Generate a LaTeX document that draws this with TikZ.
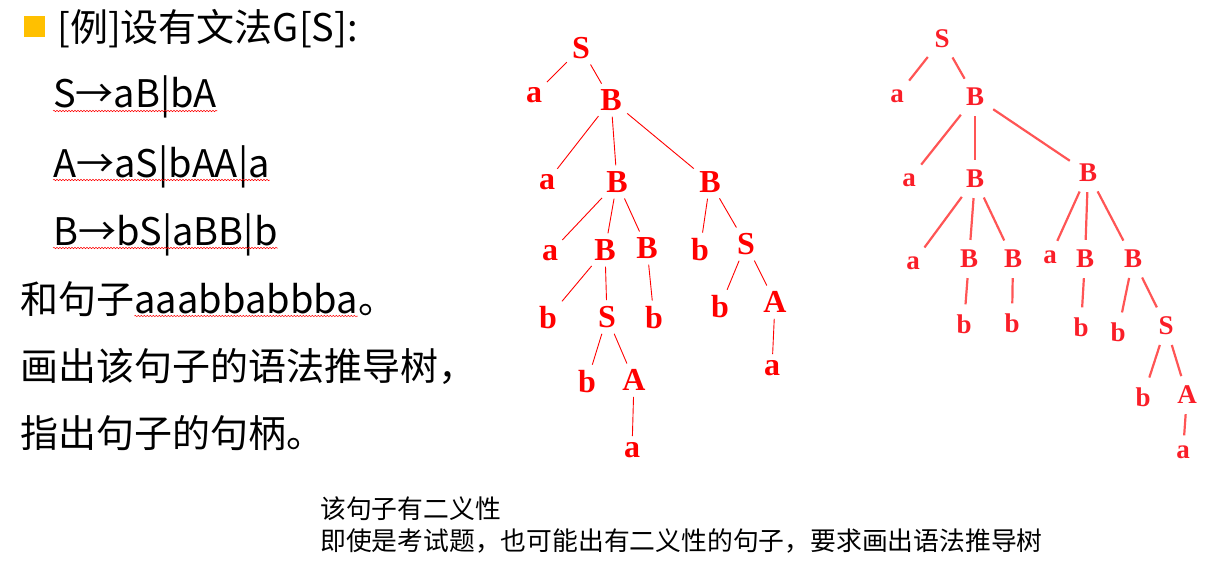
\documentclass[tikz,border=0pt]{standalone}
\usepackage{fontspec}
\newfontfamily\cjk{Noto Sans CJK SC}
\newfontfamily\treefont{Liberation Serif}
\usepackage{tikz}
\usetikzlibrary{positioning,decorations.pathmorphing}
\definecolor{bulletyellow}{RGB}{255,192,0}
\definecolor{softred}{RGB}{250,30,40}
\definecolor{edgered}{RGB}{255,85,85}

\begin{document}
\begin{tikzpicture}[x=1pt,y=-1pt,
  txt/.style={anchor=base west,inner sep=0pt,font=\cjk\fontsize{38}{44}\selectfont},
  note/.style={anchor=base west,inner sep=0pt,font=\cjk\fontsize{25.8}{30}\selectfont},
  sqbullet/.style={fill=bulletyellow,minimum size=21pt,inner sep=0pt},
  squiggle/.style={draw=red,line width=0.5pt,decorate,decoration={snake,amplitude=0.7pt,segment length=3pt}},
  lsym/.style={text=red,inner sep=3pt,font=\treefont\bfseries\fontsize{32}{34}\selectfont},
  rsym/.style={text=softred,inner sep=4pt,font=\treefont\bfseries\fontsize{27}{29}\selectfont},
  ledge/.style={draw=red,line width=0.9pt,shorten >=3pt,shorten <=3pt},
  redge/.style={draw=edgered,line width=2.2pt,shorten >=6pt,shorten <=6pt}]
\useasboundingbox (0,0) rectangle (1226,575);

% question text
\node[sqbullet] (dot) at (34,27) {};
\node[txt] (title) at (57,42) {[例]设有文法G[S]:};
\node[txt] (g1) at (53,108) {S→aB|bA};
\node[txt] (g2) at (53,177) {A→aS|bAA|a};
\node[txt] (g3) at (53,245) {B→bS|aBB|b};
\node[txt] (q1) at (20,313) {和句子};
\node[txt] (q2) at (q1.base east) {aaabbabbba};
\node[txt] (q3) at (q2.base east) {。};
\node[txt] (q4) at (20,380) {画出该句子的语法推导树，};
\node[txt] (q5) at (20,447) {指出句子的句柄。};
\foreach \t in {g1,g2,g3,q2}
  \draw[squiggle] ([yshift=-3pt]\t.base west) -- ([yshift=-3pt]\t.base east);

% first derivation tree
\foreach \n/\s/\x/\y in {1/S/581/48, 2/a/534/95, 3/B/611/100,
    4/a/547/182, 5/B/617/182, 6/B/710/182,
    7/a/550/253, 8/B/605/250, 9/B/647/248, 10/b/700/250, 11/S/746/244,
    12/b/548/318, 13/S/607/317, 14/b/654/318, 15/b/720/307, 16/A/775/302,
    17/b/587/382, 18/A/634/380, 19/a/772/368, 20/a/632/450}
  \node[lsym] (L\n) at (\x,\y) {\s};
\foreach \u/\v in {1/2,1/3,3/4,3/5,3/6,5/7,5/8,5/9,6/10,6/11,
    8/12,8/13,9/14,11/15,11/16,13/17,13/18,16/19,18/20}
  \draw[ledge] (L\u) -- (L\v);

% second derivation tree
\foreach \n/\s/\x/\y in {1/S/942/39, 2/a/897/96, 3/B/975/97,
    4/a/909/180, 5/B/975/179, 6/B/1088/173,
    7/a/913/263, 8/B/969/259, 9/B/1013/259, 10/a/1050/257, 11/B/1085/259, 12/B/1133/259,
    13/b/964/324, 14/b/1012/323, 15/b/1081/327, 16/b/1118/332, 17/S/1166/326,
    18/b/1143/397, 19/A/1187/395, 20/a/1183/452}
  \node[rsym] (R\n) at (\x,\y) {\s};
\foreach \u/\v in {1/2,1/3,3/4,3/5,3/6,5/7,5/8,5/9,6/10,6/11,6/12,
    8/13,9/14,11/15,12/16,12/17,17/18,17/19,19/20}
  \draw[redge] (R\u) -- (R\v);

% remark
\node[note] (n1) at (320,518) {该句子有二义性};
\node[note] (n2) at (320,550) {即使是考试题，也可能出有二义性的句子，要求画出语法推导树};
\end{tikzpicture}
\end{document}
